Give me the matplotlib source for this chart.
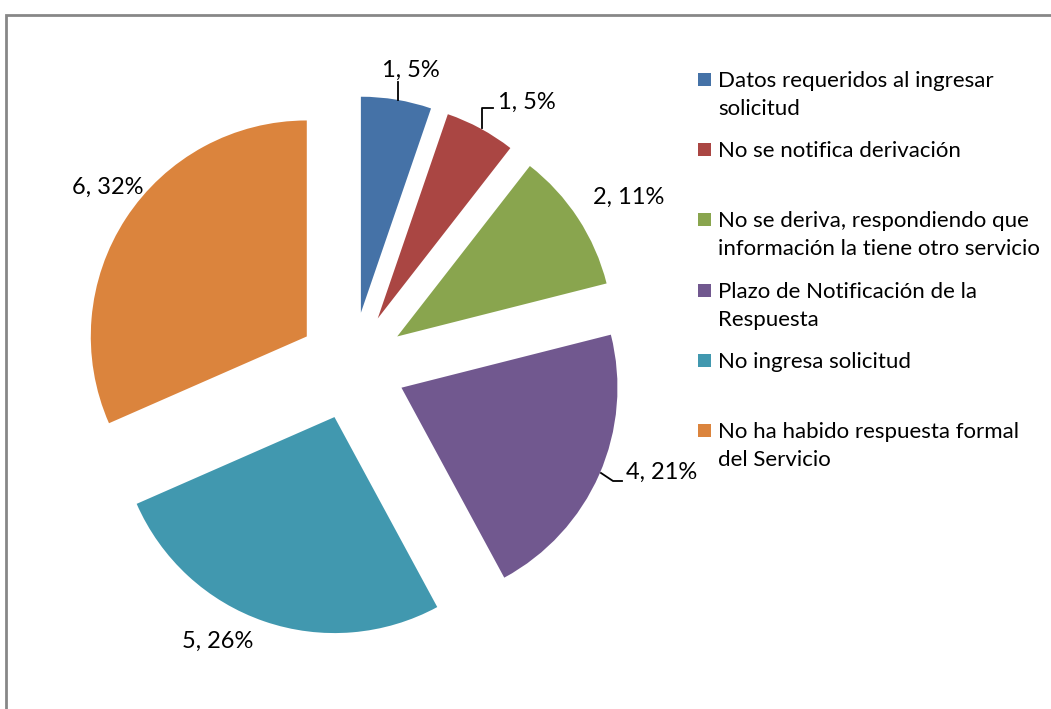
import matplotlib
matplotlib.use("Agg")
import matplotlib.pyplot as plt
from matplotlib.patches import Rectangle

# Datos
categorias = [
    "Datos requeridos al ingresar\nsolicitud",
    "No se notifica derivación",
    "No se deriva, respondiendo que\ninformación la tiene otro servicio",
    "Plazo de Notificación de la\nRespuesta",
    "No ingresa solicitud",
    "No ha habido respuesta formal\ndel Servicio",
]
valores = [1, 1, 2, 4, 5, 6]
colores = ["#4572A7", "#AA4643", "#89A54E", "#71588F", "#4198AF", "#DB843D"]

W, H = 1051, 709
CX, CY, R = 352, 366, 216  # centro y radio del pastel en pixeles

plt.rcParams['font.family'] = ['Lato', 'DejaVu Sans']

fig = plt.figure(figsize=(W / 100, H / 100), dpi=100)
ax = fig.add_axes([0, 0, 1, 1])

wedges, _ = ax.pie(valores, colors=colores, startangle=90, counterclock=False,
                   explode=[0.25] * len(valores), radius=1, center=(0, 0),
                   frame=True)
ax.set_xlim(-CX / R, (W - CX) / R)
ax.set_ylim(-(H - CY) / R, CY / R)
ax.axis('off')

# etiquetas de datos
total = sum(valores)
etiquetas = [f"{v}, {round(v / total * 100)}%" for v in valores]
pos_etiquetas = [(411, 70), (527, 102), (629, 197), (662, 472), (218, 641), (108, 187)]


def a_datos(px, py):
    return (px - CX) / R, (CY - py) / R


for txt, (px, py) in zip(etiquetas, pos_etiquetas):
    x, y = a_datos(px, py)
    ax.text(x, y, txt, ha='center', va='center', fontsize=17, color='black')

# lineas guia
guias = [
    [(398, 82), (398, 100)],
    [(493, 108), (482, 108), (482, 128)],
    [(601, 473), (613, 481), (622, 481)],
]
for g in guias:
    xs, ys = zip(*[a_datos(px, py) for px, py in g])
    ax.plot(xs, ys, color='black', lw=1.3)

# leyenda manual
leyenda_y = [79, 149, 219, 290, 360, 430]
for cat, col, ly in zip(categorias, colores, leyenda_y):
    fig.patches.append(Rectangle((698 / W, 1 - (ly + 7) / H), 13 / W, 13 / H,
                                 transform=fig.transFigure, facecolor=col,
                                 edgecolor='none'))
    fig.text(718 / W, 1 - (ly - 8) / H, cat, ha='left', va='top', fontsize=16,
             linespacing=1.48, color='black')

# borde del grafico
fig.patches.append(Rectangle((6 / W, -0.1), 1.2, 1 - 15 / H + 0.1,
                             transform=fig.transFigure, facecolor='none',
                             edgecolor='#878787', lw=2))

fig.savefig('out.png', dpi=100, facecolor='white')
